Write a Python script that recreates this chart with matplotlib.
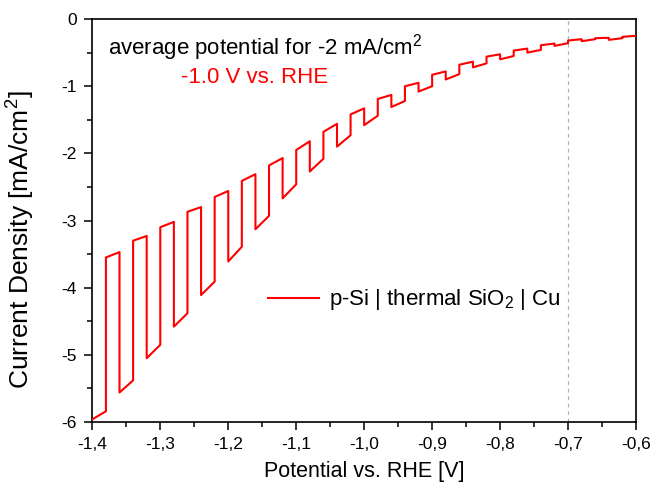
import matplotlib
matplotlib.use("Agg")
import matplotlib.pyplot as plt
from matplotlib.ticker import MultipleLocator, FuncFormatter

plt.rcParams['font.family'] = ['Liberation Sans', 'DejaVu Sans']
plt.rcParams['mathtext.fontset'] = 'custom'
plt.rcParams['mathtext.rm'] = 'Liberation Sans'
plt.rcParams['mathtext.it'] = 'Liberation Sans:italic'

# chopped-light sweep: segment boundaries (V vs. RHE)
seg_edges = [-1.40, -1.38, -1.36, -1.34, -1.32, -1.30, -1.28, -1.26, -1.24, -1.22,
             -1.20, -1.18, -1.16, -1.14, -1.12, -1.10, -1.08, -1.06, -1.04, -1.02,
             -1.00, -0.98, -0.96, -0.94, -0.92, -0.90, -0.88, -0.86, -0.84, -0.82,
             -0.80, -0.78, -0.76, -0.74, -0.72, -0.70, -0.68, -0.66, -0.64, -0.62,
             -0.60]
# current density at start and end of each segment (mA/cm2)
seg_start = [-5.96, -3.55, -5.56, -3.30, -5.05, -3.10, -4.58, -2.87, -4.11, -2.65,
             -3.61, -2.41, -3.13, -2.18, -2.67, -1.95, -2.27, -1.68, -1.90, -1.42,
             -1.58, -1.19, -1.31, -1.00, -1.08, -0.83, -0.90, -0.68, -0.72, -0.56,
             -0.60, -0.47, -0.50, -0.39, -0.40, -0.32, -0.33, -0.285, -0.31, -0.265]
seg_end = [-5.84, -3.47, -5.38, -3.23, -4.85, -3.02, -4.38, -2.80, -3.91, -2.56,
           -3.39, -2.31, -2.93, -2.07, -2.46, -1.82, -2.08, -1.56, -1.73, -1.33,
           -1.44, -1.13, -1.22, -0.95, -1.00, -0.78, -0.82, -0.635, -0.66, -0.525,
           -0.55, -0.44, -0.46, -0.365, -0.36, -0.30, -0.30, -0.28, -0.285, -0.25]

marker_potential = -0.7
series_label = 'p-Si | thermal SiO$_2$ | Cu'
x_ticks = [-1.4, -1.3, -1.2, -1.1, -1.0, -0.9, -0.8, -0.7, -0.6]
y_ticks = [0, -1, -2, -3, -4, -5, -6]

xs, ys = [], []
for i in range(len(seg_start)):
    xs += [seg_edges[i], seg_edges[i + 1]]
    ys += [seg_start[i], seg_end[i]]

fig = plt.figure(figsize=(6.52, 4.88), dpi=100)
ax = fig.add_axes([0.1416, 0.1352, 0.8339, 0.8258])

ax.axvline(marker_potential, color='#b0b0b0', lw=0.9, ls=(0, (3, 3)), zorder=1)
ax.plot(xs, ys, color='#ff0000', lw=1.5, solid_joinstyle='round', label=series_label, zorder=3)

ax.set_xlim(-1.4, -0.6)
ax.set_ylim(-6, 0)
ax.set_xticks(x_ticks)
ax.set_yticks(y_ticks)
ax.xaxis.set_minor_locator(MultipleLocator(0.05))
ax.yaxis.set_minor_locator(MultipleLocator(0.5))
ax.xaxis.set_major_formatter(FuncFormatter(lambda v, p: ('%.1f' % v).replace('.', ',')))
ax.yaxis.set_major_formatter(FuncFormatter(lambda v, p: '%d' % round(v)))
ax.tick_params(which='major', direction='out', length=6, width=1.1, labelsize=12.5, pad=5)
ax.tick_params(which='minor', direction='out', length=3.5, width=1.1)
ax.tick_params(top=False, right=False)
for s in ax.spines.values():
    s.set_linewidth(1.2)

ax.set_xlabel('Potential vs. RHE [V]', fontsize=15.5, labelpad=6)
ax.set_ylabel('Current Density [mA/cm$^2$]', fontsize=19)
ax.yaxis.set_label_coords(-0.102, 0.452)

ax.text(0.029, 0.928, 'average potential for -2 mA/cm$^2$', transform=ax.transAxes,
        fontsize=16, ha='left', va='center', color='black')
ax.text(0.299, 0.854, '-1.0 V vs. RHE', transform=ax.transAxes,
        fontsize=16, ha='center', va='center', color='#ff0000')

ax.legend(loc='center left', bbox_to_anchor=(0.323, 0.303), frameon=False,
          fontsize=16, handlelength=2.3, handletextpad=0.45, borderpad=0, borderaxespad=0)

fig.savefig('out.png', dpi=100)
